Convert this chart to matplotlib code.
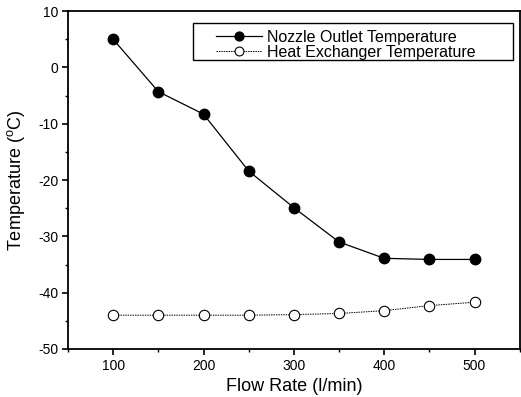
import matplotlib
matplotlib.use("Agg")
from matplotlib import pyplot as plt
from matplotlib.ticker import MultipleLocator
from matplotlib.patches import Rectangle

flow_rate = [100, 150, 200, 250, 300, 350, 400, 450, 500]
nozzle_temp = [5.0, -4.3, -8.3, -18.4, -24.9, -31.0, -33.9, -34.1, -34.1]
hx_temp = [-44.0, -44.0, -44.0, -44.0, -43.9, -43.7, -43.2, -42.3, -41.7]

plt.rcParams['font.family'] = ['Liberation Sans', 'DejaVu Sans']
plt.rcParams['mathtext.fontset'] = 'custom'
plt.rcParams['mathtext.rm'] = 'Liberation Sans'
plt.rcParams['axes.unicode_minus'] = False

fig = plt.figure(figsize=(5.21, 3.97), dpi=100)
ax = fig.add_axes([0.1305, 0.121, 0.867, 0.851])

ax.plot(flow_rate, nozzle_temp, color='black', lw=0.9, marker='o', ms=7.5,
        mfc='black', mec='black', label='Nozzle Outlet Temperature')
ax.plot(flow_rate, hx_temp, color='black', lw=0.7, ls=(0, (1.5, 1)), marker='o', ms=7.5,
        mfc='white', mec='black', mew=0.8, label='Heat Exchanger Temperature')

ax.set_xlim(50, 550)
ax.set_ylim(-50, 10)
ax.xaxis.set_major_locator(MultipleLocator(100))
ax.xaxis.set_minor_locator(MultipleLocator(50))
ax.yaxis.set_major_locator(MultipleLocator(10))
ax.yaxis.set_minor_locator(MultipleLocator(5))
ax.tick_params(which='major', direction='out', length=4, width=1.2, labelsize=10, pad=3)
ax.tick_params(which='minor', direction='out', length=2.5, width=1)
for s in ax.spines.values():
    s.set_linewidth(1.3)

ax.set_xlabel('Flow Rate (l/min)', fontsize=13, labelpad=3.5)
ax.set_ylabel('Temperature ($^\\mathregular{o}$C)', fontsize=13, labelpad=8)

# legend box drawn by hand (wider than the entries, as in the original)
ax.add_patch(Rectangle((0.277, 0.855), 0.7075, 0.11, transform=ax.transAxes,
                       fill=False, edgecolor='black', lw=1.0, zorder=5))
leg = ax.legend(loc='upper left', bbox_to_anchor=(0.328, 0.945), fontsize=11.5,
                frameon=False, handlelength=2.9, handletextpad=0.3,
                borderpad=0, labelspacing=0.0, borderaxespad=0, markerscale=0.85)

fig.savefig('out.png', dpi=100)
